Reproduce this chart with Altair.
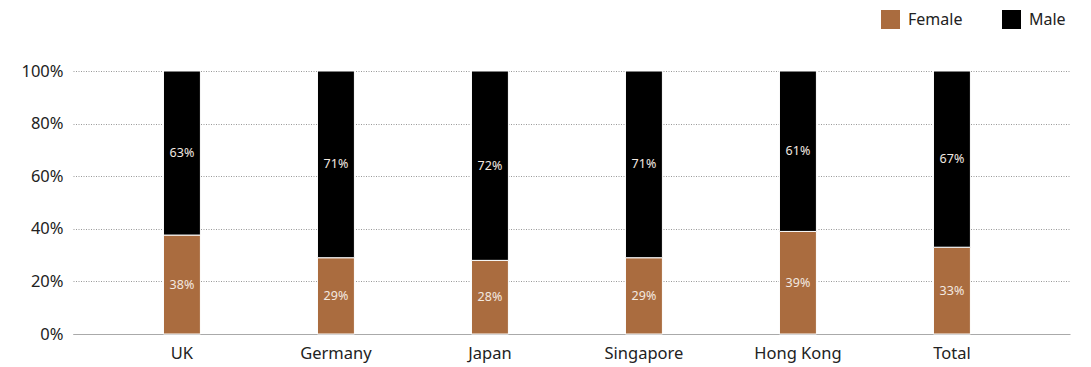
import altair as alt
import pandas as pd

countries = ["UK", "Germany", "Japan", "Singapore", "Hong Kong", "Total"]
female = [38, 29, 28, 29, 39, 33]
male = [63, 71, 72, 71, 61, 67]
groups = ["Female", "Male"]
colors = ["#AA6C3F", "#000000"]

rows = []
for c, f, m in zip(countries, female, male):
    rows.append({"country": c, "group": "Female", "order": 0, "value": f})
    rows.append({"country": c, "group": "Male", "order": 1, "value": m})
df = pd.DataFrame(rows)

FONT = "Noto Sans"

base = alt.Chart(df).transform_stack(
    stack="value",
    groupby=["country"],
    sort=[alt.SortField("order", order="ascending")],
    offset="normalize",
    as_=["y0", "y1"],
).transform_calculate(
    ymid="(datum.y0 + datum.y1) / 2",
    label="datum.value + '%'",
)

x_enc = alt.X(
    "country:N",
    sort=countries,
    title=None,
    scale=alt.Scale(paddingInner=0.76, paddingOuter=0.617, align=0.476),
    axis=alt.Axis(
        labelAngle=0,
        labelFont=FONT,
        labelFontSize=16.5,
        labelColor="#222222",
        labelPadding=11,
        ticks=False,
        domain=True,
        domainColor="#aaaaaa",
        domainWidth=1,
        grid=False,
    ),
)

bars = base.mark_bar(stroke="white", strokeWidth=1).encode(
    x=x_enc,
    y=alt.Y(
        "y0:Q",
        title=None,
        scale=alt.Scale(domain=[0, 1], nice=False),
        axis=alt.Axis(
            format=".0%",
            values=[0, 0.2, 0.4, 0.6, 0.8, 1.0],
            labelFont=FONT,
            labelFontSize=16.5,
            labelColor="#222222",
            labelPadding=10,
            ticks=False,
            domain=False,
            grid=True,
            gridColor="#999999",
            gridDash=[1, 1.5],
            gridWidth=1,
        ),
    ),
    y2="y1:Q",
    color=alt.Color(
        "group:N",
        scale=alt.Scale(domain=groups, range=colors),
        legend=alt.Legend(
            title=None,
            orient="none",
            legendX=808,
            legendY=-61,
            direction="horizontal",
            symbolType="square",
            symbolSize=361,
            symbolStrokeWidth=0,
            labelFont=FONT,
            labelFontSize=16,
            labelColor="#222222",
            labelOffset=8,
            columnPadding=39,
        ),
    ),
)

texts = base.mark_text(font=FONT, fontSize=12.5, color="#f3e9e0").encode(
    x=alt.X("country:N", sort=countries),
    y="ymid:Q",
    text="label:N",
)

chart = (
    alt.layer(bars, texts)
    .properties(
        width=997,
        height=263,
        autosize=alt.AutoSizeParams(type="none"),
        padding={"left": 65, "top": 63, "right": 13, "bottom": 29},
    )
    .configure_view(stroke=None)
)

chart.save("out.html", embed_options={"renderer": "svg", "actions": False})
